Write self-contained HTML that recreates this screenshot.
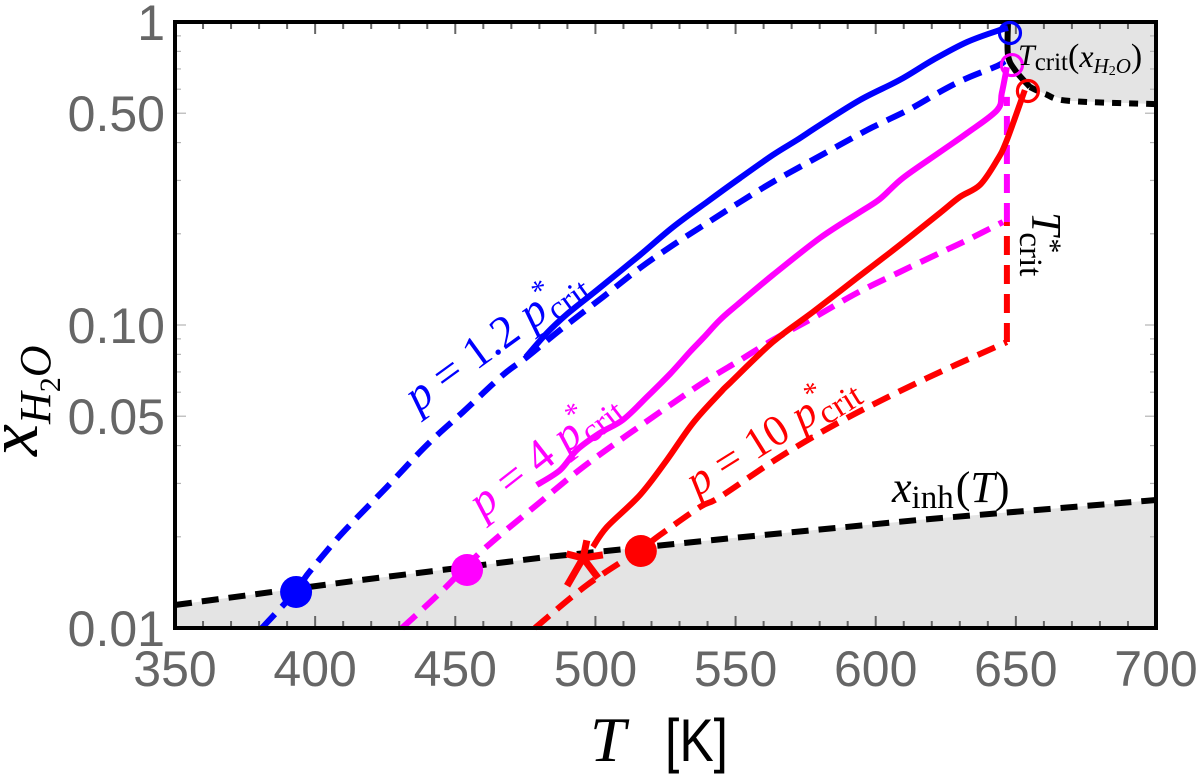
<!DOCTYPE html>
<html lang="en">
<head>
<meta charset="utf-8">
<title>Water mole fraction versus temperature</title>
<style>
html,body{margin:0;padding:0;background:#fff;}
svg{display:block;}
text{font-family:"Liberation Serif","DejaVu Serif",serif;}
.tick-label{font-family:"Liberation Sans",sans-serif;font-size:50px;fill:#666;}
</style>
</head>
<body>
<svg id="chart" xmlns="http://www.w3.org/2000/svg" width="1200" height="776" viewBox="0 0 1200 776">
  <g id="fills"></g>
  <g id="ticks"></g>
  <g id="ticklabels"></g>
  <g id="series"></g>
  <rect x="175" y="22" width="981" height="606" fill="none" stroke="#000" stroke-width="4"></rect>
  <g id="markers"></g>

  <text x="590" y="761" font-size="64" font-style="italic" fill="#000">T</text>
  <text x="665" y="761" font-size="60" textLength="63" lengthAdjust="spacingAndGlyphs" fill="#000" style="font-family:'Liberation Sans',sans-serif">[K]</text>
  <text transform="translate(37,456) rotate(-90)" font-size="72" font-style="italic" fill="#000">x<tspan font-size="44" dy="13">H</tspan><tspan font-size="30" dy="10" font-style="normal">2</tspan><tspan font-size="44" dy="-10">O</tspan></text>

  <text transform="translate(418,413) rotate(-36)" font-size="46" fill="#0000ff"><tspan font-style="italic">p</tspan> = 1.2 <tspan font-style="italic">p</tspan><tspan font-size="30" dy="-18">*</tspan><tspan font-size="34" dy="26" dx="-13">crit</tspan></text>
  <text transform="translate(483,519) rotate(-38)" font-size="46" fill="#ff00ff"><tspan font-style="italic">p</tspan> = 4 <tspan font-style="italic">p</tspan><tspan font-size="30" dy="-18">*</tspan><tspan font-size="34" dy="26" dx="-13">crit</tspan></text>
  <text transform="translate(697,497) rotate(-32)" font-size="44" fill="#ff0000"><tspan font-style="italic">p</tspan> = 10 <tspan font-style="italic">p</tspan><tspan font-size="30" dy="-18">*</tspan><tspan font-size="34" dy="26" dx="-13">crit</tspan></text>
  <text x="892" y="502" font-size="44" fill="#000"><tspan font-style="italic">x</tspan><tspan font-size="33" dy="6">inh</tspan><tspan dy="-6" dx="2">(</tspan><tspan font-style="italic">T</tspan>)</text>
  <text transform="translate(1032,212) rotate(90)" font-size="42" fill="#000"><tspan font-style="italic">T</tspan><tspan font-size="30" dy="-9" dx="3">*</tspan><tspan font-size="33" dy="21" dx="-21">crit</tspan></text>
  <text x="1018" y="65" font-size="30" fill="#000"><tspan font-style="italic">T</tspan><tspan font-size="25" dy="5">crit</tspan><tspan font-size="34" dy="-3">(</tspan><tspan font-size="32" font-style="italic">x</tspan><tspan font-size="21" dy="6" font-style="italic">H</tspan><tspan font-size="14" dy="2">2</tspan><tspan font-size="21" dy="-2" font-style="italic">O</tspan><tspan font-size="34" dy="-6">)</tspan></text>
</svg>
<script>
// ---- axis tick data ----
const xMajorTicks = [350, 400, 450, 500, 550, 600, 650, 700];
const xMinorTicks = [360, 370, 380, 390, 410, 420, 430, 440, 460, 470, 480, 490, 510, 520, 530, 540, 560, 570, 580, 590, 610, 620, 630, 640, 660, 670, 680, 690];
const yMajorTicks = [1, 0.5, 0.1, 0.05, 0.01];
const yMajorLabels = ['1', '0.50', '0.10', '0.05', '0.01'];
const yMinorTicks = [0.9, 0.8, 0.7, 0.6, 0.4, 0.3, 0.2, 0.09, 0.08, 0.07, 0.06, 0.04, 0.03, 0.02];

// ---- p = 1.2 p*crit ----
const blueSolidT = [475.2, 482.7, 489.9, 500.6, 515.9, 527.7, 539.8, 551.6, 563.3, 571.9, 580.1, 594.4, 608.6, 620.4, 632.6, 644.3, 647.2];
const blueSolidX = [0.0784, 0.0941, 0.1087, 0.1305, 0.1702, 0.2106, 0.2547, 0.3056, 0.364, 0.408, 0.457, 0.553, 0.644, 0.749, 0.859, 0.941, 0.955];
const blueDashT = [381, 393.2, 397.1, 405.3, 412.4, 425.6, 439.9, 452.7, 467, 475.6, 487.4, 502.7, 515.9, 527.7, 539.8, 551.6, 563.3, 575.5, 587.2, 599, 612.2, 624, 632.6, 643.3, 646.1];
const blueDashX = [0.01, 0.01325, 0.01496, 0.0185, 0.02187, 0.0292, 0.0402, 0.0516, 0.0684, 0.0784, 0.0963, 0.1237, 0.1542, 0.1837, 0.217, 0.2547, 0.2965, 0.3425, 0.393, 0.45, 0.516, 0.596, 0.653, 0.716, 0.743];

// ---- p = 4 p*crit ----
const magentaSolidT = [479.1, 487.4, 493.4, 501.6, 509.8, 518.4, 526.6, 533.7, 538.4, 544.4, 550.5, 563.3, 580.1, 594.4, 601.5, 609.7, 622.9, 632.6, 643.3, 645, 646.8];
const magentaSolidX = [0.02964, 0.0332, 0.0387, 0.044, 0.0486, 0.0579, 0.0689, 0.0815, 0.0905, 0.1039, 0.1164, 0.1462, 0.1937, 0.236, 0.2606, 0.3056, 0.372, 0.43, 0.512, 0.583, 0.71];
const magentaDashT = [431, 445.6, 459.9, 480.2, 495.6, 511.3, 527.7, 539.8, 551.6, 563.3, 577.6, 593.3, 608.6, 622.9, 632.6, 645.4];
const magentaDashX = [0.01, 0.01335, 0.0181, 0.026, 0.034, 0.0433, 0.0553, 0.0658, 0.0766, 0.0892, 0.1054, 0.1275, 0.1496, 0.1729, 0.1907, 0.2187];
const magentaRiseT = [646.8, 646.8];
const magentaRiseX = [0.2187, 0.566];

// ---- p = 10 p*crit ----
const redSolidT = [499.1, 504.1, 515.9, 525.5, 534.8, 544.4, 548, 563.3, 577.6, 593.3, 608.6, 622.9, 630, 637.2, 643.3, 646.8, 653.2];
const redSolidX = [0.0185, 0.02154, 0.02748, 0.03585, 0.0475, 0.0596, 0.0644, 0.0879, 0.1104, 0.1429, 0.1837, 0.2342, 0.2645, 0.29, 0.35, 0.408, 0.596];
const redDashT = [478.4, 497, 515.9, 523, 537.3, 544.4, 565.8, 589.7, 618.3, 646.8];
const redDashX = [0.01, 0.01387, 0.0181, 0.02027, 0.02508, 0.02706, 0.0367, 0.0493, 0.0668, 0.0879];
const redRiseT = [646.8, 646.8];
const redRiseX = [0.0879, 0.2187];

// ---- boundary curves ----
const inhT = [350, 416.4, 482.7, 548.7, 614.7, 700];
const inhX = [0.01191, 0.0144, 0.01715, 0.0198, 0.0227, 0.02645];
const critSolidT = [647.2, 647.2, 649.7, 655];
const critSolidX = [1, 0.778, 0.694, 0.61];
const critDotT = [655, 660.4, 669, 700];
const critDotX = [0.61, 0.579, 0.549, 0.536];

// ---- markers ----
const filledT = [393.2, 454.2, 516.2];
const filledX = [0.01315, 0.01554, 0.01795];
const openT = [647.9, 648.6, 654.3];
const openX = [0.92, 0.721, 0.592];
const starT = [495.6];
const starX = [0.01702];
const markerColors = ['#0000ff', '#ff00ff', '#ff0000'];
const markerNames = ['blue', 'magenta', 'red'];

// ---- axis functions ----
const xPx = t => 175 + (t - 350) * (981 / 350);
const yPx = v => 628 - (Math.log10(v) + 2) * 303;

const NS = 'http://www.w3.org/2000/svg';
function mk(parent, tag, attrs) {
  const el = document.createElementNS(NS, tag);
  for (const k in attrs) el.setAttribute(k, attrs[k]);
  parent.appendChild(el);
  return el;
}
const pathOf = (ts, xs) => ts.map((t, i) => (i ? 'L' : 'M') + xPx(t).toFixed(1) + ' ' + yPx(xs[i]).toFixed(1)).join(' ');
function smoothOf(ts, xs) {
  const p = ts.map((t, i) => [xPx(t), yPx(xs[i])]);
  let d = 'M' + p[0][0].toFixed(1) + ' ' + p[0][1].toFixed(1);
  for (let i = 0; i < p.length - 1; i++) {
    const a = p[Math.max(i - 1, 0)], b = p[i], c = p[i + 1], e = p[Math.min(i + 2, p.length - 1)];
    d += ' C' + (b[0] + (c[0] - a[0]) / 6).toFixed(1) + ' ' + (b[1] + (c[1] - a[1]) / 6).toFixed(1) + ' ' +
         (c[0] - (e[0] - b[0]) / 6).toFixed(1) + ' ' + (c[1] - (e[1] - b[1]) / 6).toFixed(1) + ' ' +
         c[0].toFixed(1) + ' ' + c[1].toFixed(1);
  }
  return d;
}

// ---- shaded regions ----
const fills = document.getElementById('fills');
const inhFill = mk(fills, 'path', {d: pathOf(inhT, inhX) + ' L' + xPx(700) + ' ' + yPx(0.01) + ' L' + xPx(350) + ' ' + yPx(0.01) + ' Z', fill: '#e4e4e4'});


const critFill = mk(fills, 'path', {d: pathOf(critSolidT.concat(critDotT), critSolidX.concat(critDotX)) + ' L' + xPx(700) + ' ' + yPx(1) + ' Z', fill: '#e4e4e4'});



// ---- ticks ----
const tickG = document.getElementById('ticks');
function xTick(t, len) {
  [[628, -1], [22, 1]].forEach(function (side) {
    const el = mk(tickG, 'line', {x1: xPx(t), x2: xPx(t), y1: side[0], y2: side[0] + side[1] * len, stroke: '#666', 'stroke-width': 2});
    
    
  });
}
function yTick(v, len) {
  [[175, 1], [1156, -1]].forEach(function (side) {
    const el = mk(tickG, 'line', {x1: side[0], x2: side[0] + side[1] * len, y1: yPx(v), y2: yPx(v), stroke: '#b4b4b4', 'stroke-width': 1.2});
    
    
  });
}
xMajorTicks.forEach(t => xTick(t, 12));
xMinorTicks.forEach(t => xTick(t, 7));
yMajorTicks.forEach(v => yTick(v, 11));
yMinorTicks.forEach(v => yTick(v, 6));

// ---- tick labels ----
const labelG = document.getElementById('ticklabels');
xMajorTicks.forEach(function (t) {
  const el = mk(labelG, 'text', {class: 'tick-label', x: xPx(t), y: 686, 'text-anchor': 'middle'});
  el.textContent = String(t);
  
  
});
yMajorTicks.forEach(function (v, i) {
  const el = mk(labelG, 'text', {class: 'tick-label', x: 165, y: yPx(v) + 18, 'text-anchor': 'end'});
  el.textContent = yMajorLabels[i];
  
  
});

// ---- series ----
const seriesG = document.getElementById('series');
function drawLine(d, color, dash, width) {
  const attrs = {d: d, fill: 'none', stroke: color, 'stroke-width': width, 'stroke-linejoin': 'round'};
  if (dash) attrs['stroke-dasharray'] = dash;
  return mk(seriesG, 'path', attrs);
}
const inhLine = drawLine(pathOf(inhT, inhX), '#000', '17 10', 6);


const critSolid = drawLine(smoothOf(critSolidT, critSolidX), '#000', '', 6);


const critDot = drawLine(smoothOf(critDotT, critDotX), '#000', '9 8', 6);


const redDash = drawLine(smoothOf(redDashT, redDashX), '#ff0000', '19 10', 6);


const redRise = drawLine(pathOf(redRiseT, redRiseX), '#ff0000', '19 10', 6);


const magentaDash = drawLine(smoothOf(magentaDashT, magentaDashX), '#ff00ff', '19 10', 6);


const magentaRise = drawLine(pathOf(magentaRiseT, magentaRiseX), '#ff00ff', '19 10', 6);


const blueDash = drawLine(smoothOf(blueDashT, blueDashX), '#0000ff', '19 10', 6);


const redSolid = drawLine(smoothOf(redSolidT, redSolidX), '#ff0000', '', 6);


const magentaSolid = drawLine(smoothOf(magentaSolidT, magentaSolidX), '#ff00ff', '', 6);


const blueSolid = drawLine(smoothOf(blueSolidT, blueSolidX), '#0000ff', '', 6);



// ---- markers ----
const markerG = document.getElementById('markers');
filledT.forEach(function (t, i) {
  const el = mk(markerG, 'circle', {cx: xPx(t), cy: yPx(filledX[i]), r: 16, fill: markerColors[i]});
  
  
});
openT.forEach(function (t, i) {
  const el = mk(markerG, 'circle', {cx: xPx(t), cy: yPx(openX[i]), r: 10.5, fill: 'none', stroke: markerColors[i], 'stroke-width': 3.2});
  
  
});
starT.forEach(function (t, i) {
  const cx = xPx(t), cy = yPx(starX[i]);
  [[-78, 18], [-9, 20], [53, 25], [120, 32], [194, 17]].forEach(function (arm) {
    const a = arm[0] * Math.PI / 180;
    const el = mk(markerG, 'line', {x1: cx, y1: cy, x2: cx + arm[1] * Math.cos(a), y2: cy + arm[1] * Math.sin(a), stroke: '#ff0000', 'stroke-width': 7});
    
    
  });
});
</script>
</body>
</html>
